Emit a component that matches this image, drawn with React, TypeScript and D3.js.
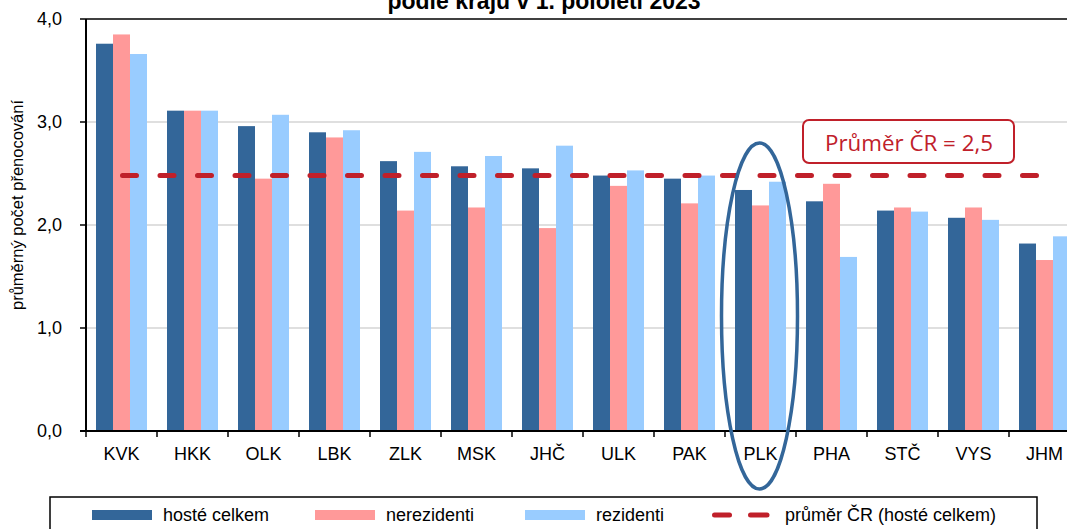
import { useMemo } from "react";
import { scaleBand, scaleLinear } from "d3";

const categories = ["KVK", "HKK", "OLK", "LBK", "ZLK", "MSK", "JHČ", "ULK", "PAK", "PLK", "PHA", "STČ", "VYS", "JHM"];
const hosteCelkem = [3.76, 3.11, 2.96, 2.9, 2.62, 2.57, 2.55, 2.48, 2.45, 2.34, 2.23, 2.14, 2.07, 1.82];
const nerezidenti = [3.85, 3.11, 2.45, 2.85, 2.14, 2.17, 1.97, 2.38, 2.21, 2.19, 2.4, 2.17, 2.17, 1.66];
const rezidenti = [3.66, 3.11, 3.07, 2.92, 2.71, 2.67, 2.77, 2.53, 2.48, 2.42, 1.69, 2.13, 2.05, 1.89];
const prumerCR = 2.48;
const yTicks = [0, 1, 2, 3, 4];

const seriesNames = ["hosté celkem", "nerezidenti", "rezidenti"];
const seriesColors = ["#336699", "#FF9999", "#99CCFF"];
const RED = "#C0202A";

const W = 1067;
const H = 529;
const margin = { left: 86, top: 19, bottom: 98 };
const step = 71;

export default function App() {
    const series = [hosteCelkem, nerezidenti, rezidenti];

    const x = useMemo(
        () => scaleBand<string>()
            .domain(categories)
            .range([margin.left, margin.left + step * categories.length])
            .paddingInner(20 / 71)
            .paddingOuter(10 / 71),
        []
    );
    const x1 = useMemo(
        () => scaleBand<string>().domain(seriesNames).range([0, x.bandwidth()]),
        [x]
    );
    const y = useMemo(() => scaleLinear().domain([0, 4]).range([H - margin.bottom, margin.top]), []);

    const y0 = y(0);
    const avgY = y(prumerCR);
    const firstC = (x(categories[0]) || 0) + x.bandwidth() / 2;
    const lastC = (x(categories[categories.length - 1]) || 0) + x.bandwidth() / 2;
    const plk = (x("PLK") || 0) + x.bandwidth() / 2;

    const legendItems = [
        { label: seriesNames[0], x: 92, kind: "bar", color: seriesColors[0] },
        { label: seriesNames[1], x: 315, kind: "bar", color: seriesColors[1] },
        { label: seriesNames[2], x: 525, kind: "bar", color: seriesColors[2] },
        { label: "průměr ČR (hosté celkem)", x: 712, kind: "line", color: RED },
    ];

    return (
        <svg
            width={W}
            height={H}
            style={{ position: "absolute", left: 0, top: 0, background: "#fff", fontFamily: "'Liberation Sans', Arial, sans-serif" }}
        >
            {/* title: only its last line shows at the top edge */}
            <text x={544} y={9} textAnchor="middle" fontWeight="bold" fontSize={23} fill="#000">
                podle krajů v 1. pololetí 2023
            </text>

            {/* gridlines */}
            {yTicks.filter(t => t > 0 && t < 4).map(t => (
                <line key={t} x1={margin.left} x2={W} y1={y(t)} y2={y(t)} stroke="#c0c0c0" strokeWidth={1.2} />
            ))}
            <line x1={margin.left} x2={W} y1={y(4)} y2={y(4)} stroke="#000" strokeWidth={1.5} />

            {/* bars */}
            {categories.map((c, i) => (
                <g key={c} transform={`translate(${x(c)}, 0)`}>
                    {series.map((s, j) => (
                        <rect
                            key={j}
                            x={x1(seriesNames[j])}
                            y={y(s[i])}
                            width={x1.bandwidth()}
                            height={y0 - y(s[i])}
                            fill={seriesColors[j]}
                        />
                    ))}
                </g>
            ))}

            {/* axes */}
            <line x1={margin.left} x2={margin.left} y1={margin.top} y2={y0} stroke="#000" strokeWidth={2} />
            <line x1={margin.left - 6} x2={W} y1={y0} y2={y0} stroke="#000" strokeWidth={2} />
            {yTicks.map(t => (
                <g key={t}>
                    <line x1={margin.left - 6} x2={margin.left} y1={y(t)} y2={y(t)} stroke="#000" strokeWidth={1.5} />
                    <text x={62} y={y(t) + 6} textAnchor="end" fontSize={18} fill="#000">
                        {t.toFixed(1).replace(".", ",")}
                    </text>
                </g>
            ))}
            {categories.map((c, i) => (
                <g key={c}>
                    <line x1={margin.left + i * step} x2={margin.left + i * step} y1={y0} y2={y0 + 6} stroke="#000" strokeWidth={1.5} />
                    <text x={(x(c) || 0) + x.bandwidth() / 2} y={y0 + 29} textAnchor="middle" fontSize={18} fill="#000">
                        {c}
                    </text>
                </g>
            ))}
            <text transform="translate(23, 205) rotate(-90)" textAnchor="middle" fontSize={16.5} fill="#000">
                průměrný počet přenocování
            </text>

            {/* average line */}
            <line
                x1={firstC + 1}
                x2={lastC}
                y1={avgY}
                y2={avgY}
                stroke={RED}
                strokeWidth={5}
                strokeDasharray="14 23.5"
                strokeLinecap="round"
            />

            {/* annotation */}
            <rect x={803} y={120} width={211} height={43} rx={6} fill="#fff" stroke={RED} strokeWidth={2} />
            <text
                x={909}
                y={151}
                textAnchor="middle"
                fontSize={21}
                fill={RED}
                textLength={168}
                lengthAdjust="spacingAndGlyphs"
                style={{ fontFamily: "'Open Sans', sans-serif" }}
            >
                Průměr ČR = 2,5
            </text>

            {/* highlight ellipse */}
            <ellipse cx={plk - 1} cy={316} rx={38} ry={173} fill="none" stroke="#336699" strokeWidth={3.5} />

            {/* legend */}
            <rect x={50} y={497} width={987} height={60} fill="#fff" stroke="#000" strokeWidth={1.5} />
            {legendItems.map(item => (
                <g key={item.label}>
                    {item.kind === "bar" ? (
                        <rect x={item.x} y={510} width={60} height={10} fill={item.color} />
                    ) : (
                        <g>
                            <line x1={item.x + 2.5} x2={item.x + 17.5} y1={515} y2={515} stroke={item.color} strokeWidth={5} strokeLinecap="round" />
                            <line x1={item.x + 38.5} x2={item.x + 55} y1={515} y2={515} stroke={item.color} strokeWidth={5} strokeLinecap="round" />
                        </g>
                    )}
                    <text x={item.kind === "bar" ? item.x + 71 : item.x + 73} y={521} fontSize={18} fill="#000">
                        {item.label}
                    </text>
                </g>
            ))}
        </svg>
    );
}
